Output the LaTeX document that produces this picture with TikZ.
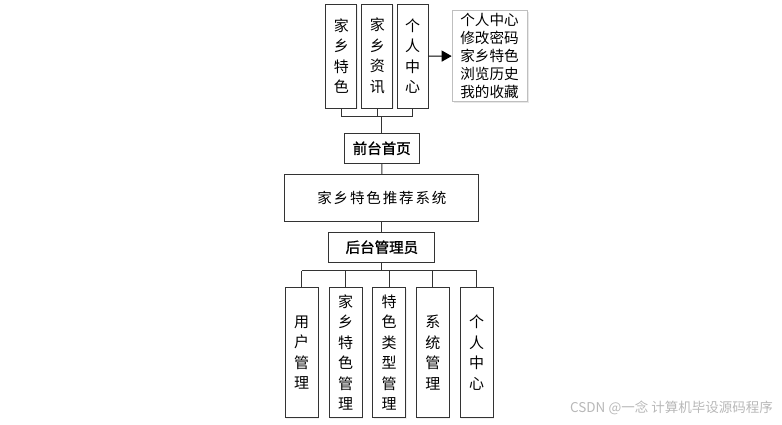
\documentclass[tikz,border=0pt]{standalone}
\usepackage{fontspec}
\usepackage{tikz}
\usetikzlibrary{arrows.meta,positioning,shadows}
\newfontfamily\cjk{Noto Sans CJK SC}
\newfontfamily\cjkwide[LetterSpace=13]{Noto Sans CJK SC}
\newfontfamily\cjkbold[FakeBold=1.5]{Noto Sans CJK SC}

\begin{document}
\begin{tikzpicture}[
  x=1pt, y=-1pt,
  tall/.style={draw=black!80, line width=1pt, fill=white, align=center, inner sep=0pt,
    drop shadow={opacity=0.12, shadow xshift=1pt, shadow yshift=-1pt},
    font=\cjk\fontsize{15}{20.5}\selectfont},
  head/.style={draw=black!80, line width=1pt, fill=white, align=center, inner sep=0pt,
    font=\cjkbold\fontsize{14.5}{16}\selectfont},
  menu/.style={draw=black!25, line width=0.6pt, fill=white, align=left, inner sep=2pt,
    drop shadow={opacity=0.18, shadow xshift=1.5pt, shadow yshift=-1.5pt},
    font=\cjk\fontsize{14.6}{18}\selectfont},
  link/.style={draw=black!80, line width=1pt},
  arr/.style={link, draw=black, -{Triangle[length=10pt,width=11pt]}}
]
\useasboundingbox (0,0) rectangle (782,424);
% front side
\node[tall, minimum width=31pt, minimum height=104pt] (feat) at (341.3,56) {家\\乡\\特\\色};
\node[tall, minimum width=31pt, minimum height=104pt] (news) at (377.3,56) {家\\乡\\资\\讯};
\node[tall, minimum width=31pt, minimum height=104pt] (user) at (412.7,56) {个\\人\\中\\心};
\node[menu, minimum width=75pt, minimum height=91pt] (usermenu) at (489.5,56.2) {个人中心\\修改密码\\家乡特色\\浏览历史\\我的收藏};
\node[head, minimum width=75pt, minimum height=30pt] (front) at (381.7,148.3) {前台首页};
\node[draw=black!80, line width=1pt, inner sep=0pt, minimum width=194pt, minimum height=47pt,
  font=\cjkwide\fontsize{14.5}{16}\selectfont] (sys) at (381.9,198) {家乡特色推荐系统};
\node[head, minimum width=106pt, minimum height=30pt] (admin) at (381.9,247.2) {后台管理员};
% back side
\node[tall, minimum width=33pt, minimum height=130pt] (um) at (301.7,352.5) {用\\户\\管\\理};
\node[tall, minimum width=33pt, minimum height=130pt] (fm) at (345.7,352.5) {家\\乡\\特\\色\\管\\理};
\node[tall, minimum width=33pt, minimum height=130pt] (tm) at (389.2,352.5) {特\\色\\类\\型\\管\\理};
\node[tall, minimum width=33pt, minimum height=130pt] (sm) at (432.8,352.5) {系\\统\\管\\理};
\node[tall, minimum width=33pt, minimum height=130pt] (pm) at (476.7,352.5) {个\\人\\中\\心};
\coordinate (topbar) at (381.7,116.7);
\coordinate (botbar) at (381.9,270.7);
\draw[link] (feat.south) |- (topbar) -| (user.south);
\draw[link] (news.south) -- (news.south |- topbar);
\draw[link] (topbar) -- (front.north);
\draw[link] (front) -- (sys);
\draw[link] (sys) -- (admin);
\draw[link] (admin.south) -- (botbar);
\draw[link] (um.north |- botbar) -- (pm.north |- botbar);
\foreach \b in {um,fm,tm,sm,pm}
  \draw[link] (\b.north) -- (\b.north |- botbar);
\draw[arr] (user) -- (usermenu);
\node[anchor=east, inner sep=0pt, text=black!28, font=\cjk\fontsize{13.5}{15}\selectfont] (mark) at (773,408) {CSDN @一念 计算机毕设源码程序};
\end{tikzpicture}
\end{document}
